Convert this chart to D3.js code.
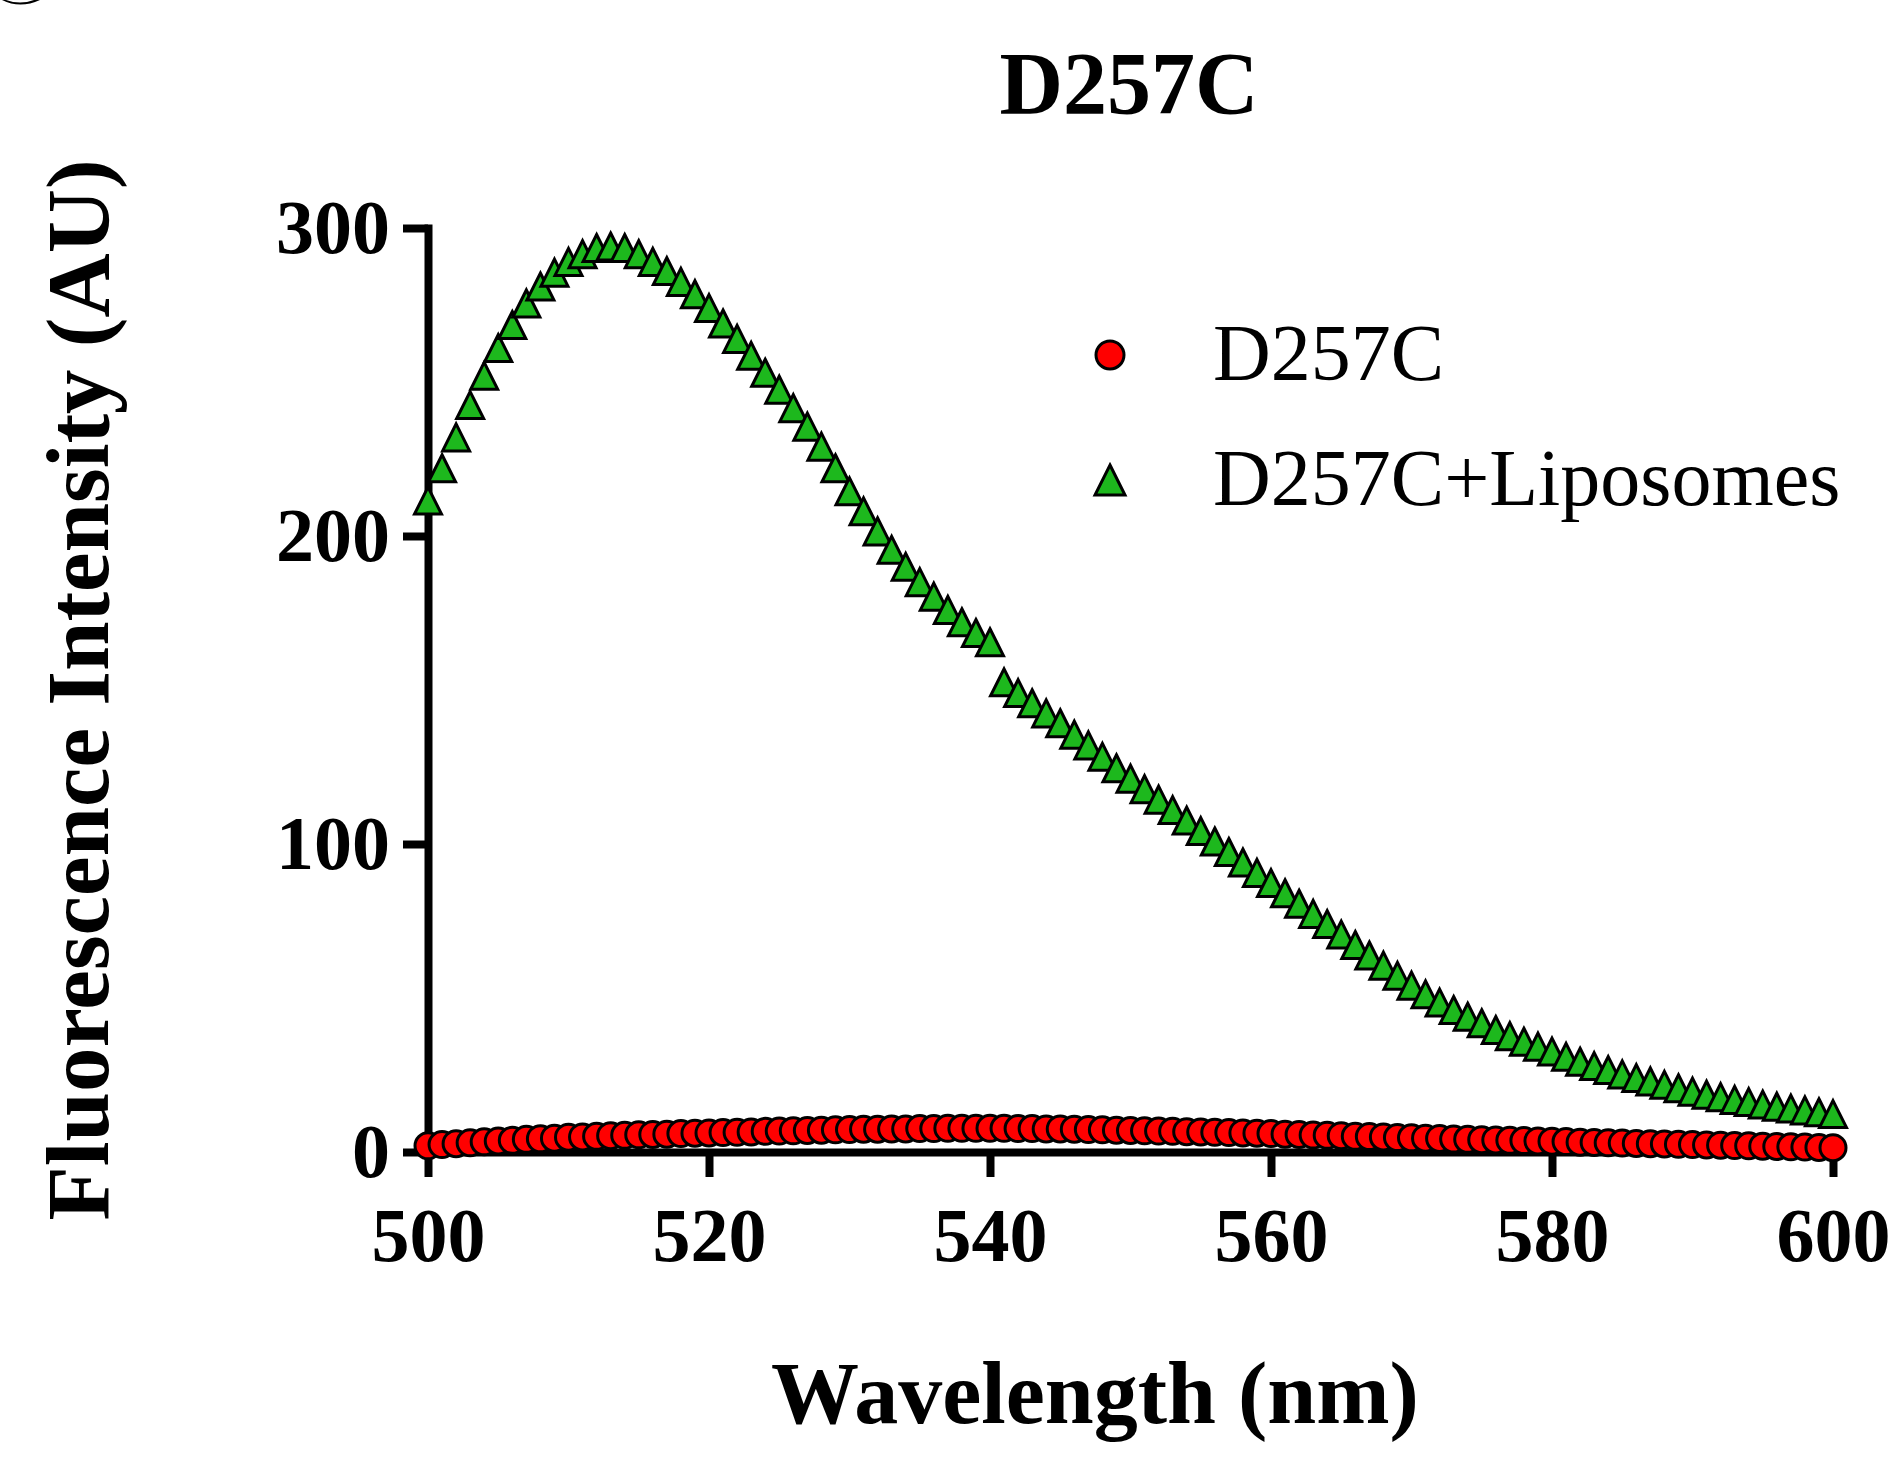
<!DOCTYPE html>
<html>
<head lang="en">
    <meta charset="UTF-8">
    <title>D257C</title>
    <script src="https://cdn.jsdelivr.net/npm/d3@7/dist/d3.min.js"></script>
    <style>
        body{ margin:0; background:#fff; }
        text{ font-family:"Liberation Serif","Times New Roman",serif; fill:#000; }
        .axis path,.axis line{ stroke:#000; stroke-width:8px; }
        .axis path{ stroke-linecap:square; }
        .axis text{ font-size:76px; font-weight:bold; font-family:"Liberation Serif",serif; }
    </style>
</head>
<body>
    <div id="chart"></div>
</body>
</html>
<script>
    var title='D257C';
    var xTitle='Wavelength (nm)';
    var yTitle='Fluorescence Intensity (AU)';
    var seriesNames=['D257C','D257C+Liposomes'];
    var xTicks=[500,520,540,560,580,600];
    var yTicks=[0,100,200,300];
    var wavelength=d3.range(500,601,1);
    var d257c=[
        2.0,2.4,2.7,3.0,3.3,3.6,3.8,4.1,4.3,4.5,
        4.8,4.9,5.1,5.3,5.4,5.6,5.7,5.8,6.0,6.1,
        6.2,6.3,6.4,6.5,6.7,6.8,6.9,7.0,7.1,7.2,
        7.3,7.4,7.4,7.5,7.5,7.6,7.6,7.7,7.7,7.7,
        7.7,7.7,7.6,7.6,7.5,7.5,7.4,7.3,7.2,7.1,
        7.0,6.9,6.8,6.7,6.6,6.5,6.4,6.3,6.2,6.1,
        6.0,5.8,5.7,5.5,5.4,5.3,5.1,5.0,4.9,4.7,
        4.6,4.5,4.4,4.2,4.1,4.0,3.9,3.8,3.7,3.6,
        3.5,3.4,3.2,3.1,3.0,2.9,2.8,2.7,2.6,2.5,
        2.4,2.3,2.2,2.1,2.0,1.9,1.8,1.7,1.6,1.5,
        1.4
    ];
    var d257cLipo=[
        211.5,222,232,242.5,252,261,268.5,275.5,281,285.5,
        289,291.5,293.5,294,293.5,291.5,289,286,282.5,278.5,
        274,269,264,258.5,253,247.5,241.5,235.5,229,222,
        214.5,208,201.5,195.5,190,185,180.3,176,172,168.5,
        165.5,152.5,149,145.7,142.4,139.2,135.5,132,128.3,124.6,
        121.2,117.8,114.4,111,107.6,104.2,100.8,97.4,94,90.6,
        87.3,84,80.6,77.3,74,70.6,67.2,63.8,60.5,57.2,
        54,51.2,48.5,46.1,43.9,41.8,39.6,37.6,35.8,34.2,
        32.6,30.9,29.3,27.9,26.6,25.2,24,22.9,21.8,20.7,
        19.6,18.6,17.8,16.9,16.2,15.4,14.7,14.1,13.5,12.9,
        12.3
    ];

    var svgwidth=1899, svgheight=1458;
    var xScale=d3.scaleLinear().domain([500,600]).range([428,1833]);
    var yScale=d3.scaleLinear().domain([0,300]).range([1152,228]);

    var svg=d3.select('#chart').append('svg')
            .attr('width',svgwidth)
            .attr('height',svgheight);

    // bottom of the panel letter, cut off by the top edge
    svg.append('path')
            .attr('d','M2,0 Q20,9 40,0 L34,0 Q20,5 6,0 Z')
            .attr('fill','#000');

    svg.append('text')
            .attr('x',1129).attr('y',113)
            .attr('text-anchor','middle')
            .style('font-size','88px').style('font-weight','bold')
            .text(title);

    svg.append('g')
            .attr('class','axis')
            .attr('transform','translate(0,'+yScale(0)+')')
            .call(d3.axisBottom(xScale).tickValues(xTicks).tickSize(25).tickSizeOuter(0).tickPadding(30))
            .selectAll('text').attr('dy','0.71em');

    svg.append('g')
            .attr('class','axis')
            .attr('transform','translate('+xScale(500)+',0)')
            .call(d3.axisLeft(yScale).tickValues(yTicks).tickSize(25).tickSizeOuter(0).tickPadding(13));

    svg.selectAll('.axis .domain').attr('fill','none');

    svg.append('text')
            .attr('transform','translate(108,690) rotate(-90)')
            .attr('text-anchor','middle')
            .style('font-size','89px').style('font-weight','bold')
            .text(yTitle);

    svg.append('text')
            .attr('x',1095).attr('y',1423)
            .attr('text-anchor','middle')
            .style('font-size','88px').style('font-weight','bold')
            .text(xTitle);

    // triangle as tall as it is wide, like the plot's markers
    var tri={
        draw:function(ctx,size){
            var w=Math.sqrt(size), h=w;
            ctx.moveTo(0,-h/2);
            ctx.lineTo(w/2,h/2);
            ctx.lineTo(-w/2,h/2);
            ctx.closePath();
        }
    };

    var redData=wavelength.map(function(w,i){ return {x:w,y:d257c[i]}; });
    var greenData=wavelength.map(function(w,i){ return {x:w,y:d257cLipo[i]}; });

    svg.append('g').selectAll('circle')
            .data(redData).enter()
            .append('circle')
            .attr('cx',function(d){ return xScale(d.x); })
            .attr('cy',function(d){ return yScale(d.y); })
            .attr('r',13)
            .attr('fill','#ff0000')
            .attr('stroke','#000')
            .attr('stroke-width',3);

    svg.append('g').selectAll('path')
            .data(greenData).enter()
            .append('path')
            .attr('d',d3.symbol().type(tri).size(27*27))
            .attr('transform',function(d){ return 'translate('+xScale(d.x)+','+yScale(d.y)+')'; })
            .attr('fill','#1db81d')
            .attr('stroke','#000')
            .attr('stroke-width',3)
            .attr('stroke-linejoin','miter');

    // legend
    var legend=svg.append('g');
    legend.append('circle')
            .attr('cx',1110).attr('cy',355).attr('r',14)
            .attr('fill','#ff0000').attr('stroke','#000').attr('stroke-width',3);
    legend.append('path')
            .attr('d',d3.symbol().type(tri).size(30*30))
            .attr('transform','translate(1110,480)')
            .attr('fill','#1db81d').attr('stroke','#000').attr('stroke-width',3);
    legend.selectAll('text')
            .data(seriesNames).enter()
            .append('text')
            .attr('x',1213)
            .attr('y',function(d,i){ return 380+i*125; })
            .style('font-size','80px')
            .text(function(d){ return d; });
</script>
